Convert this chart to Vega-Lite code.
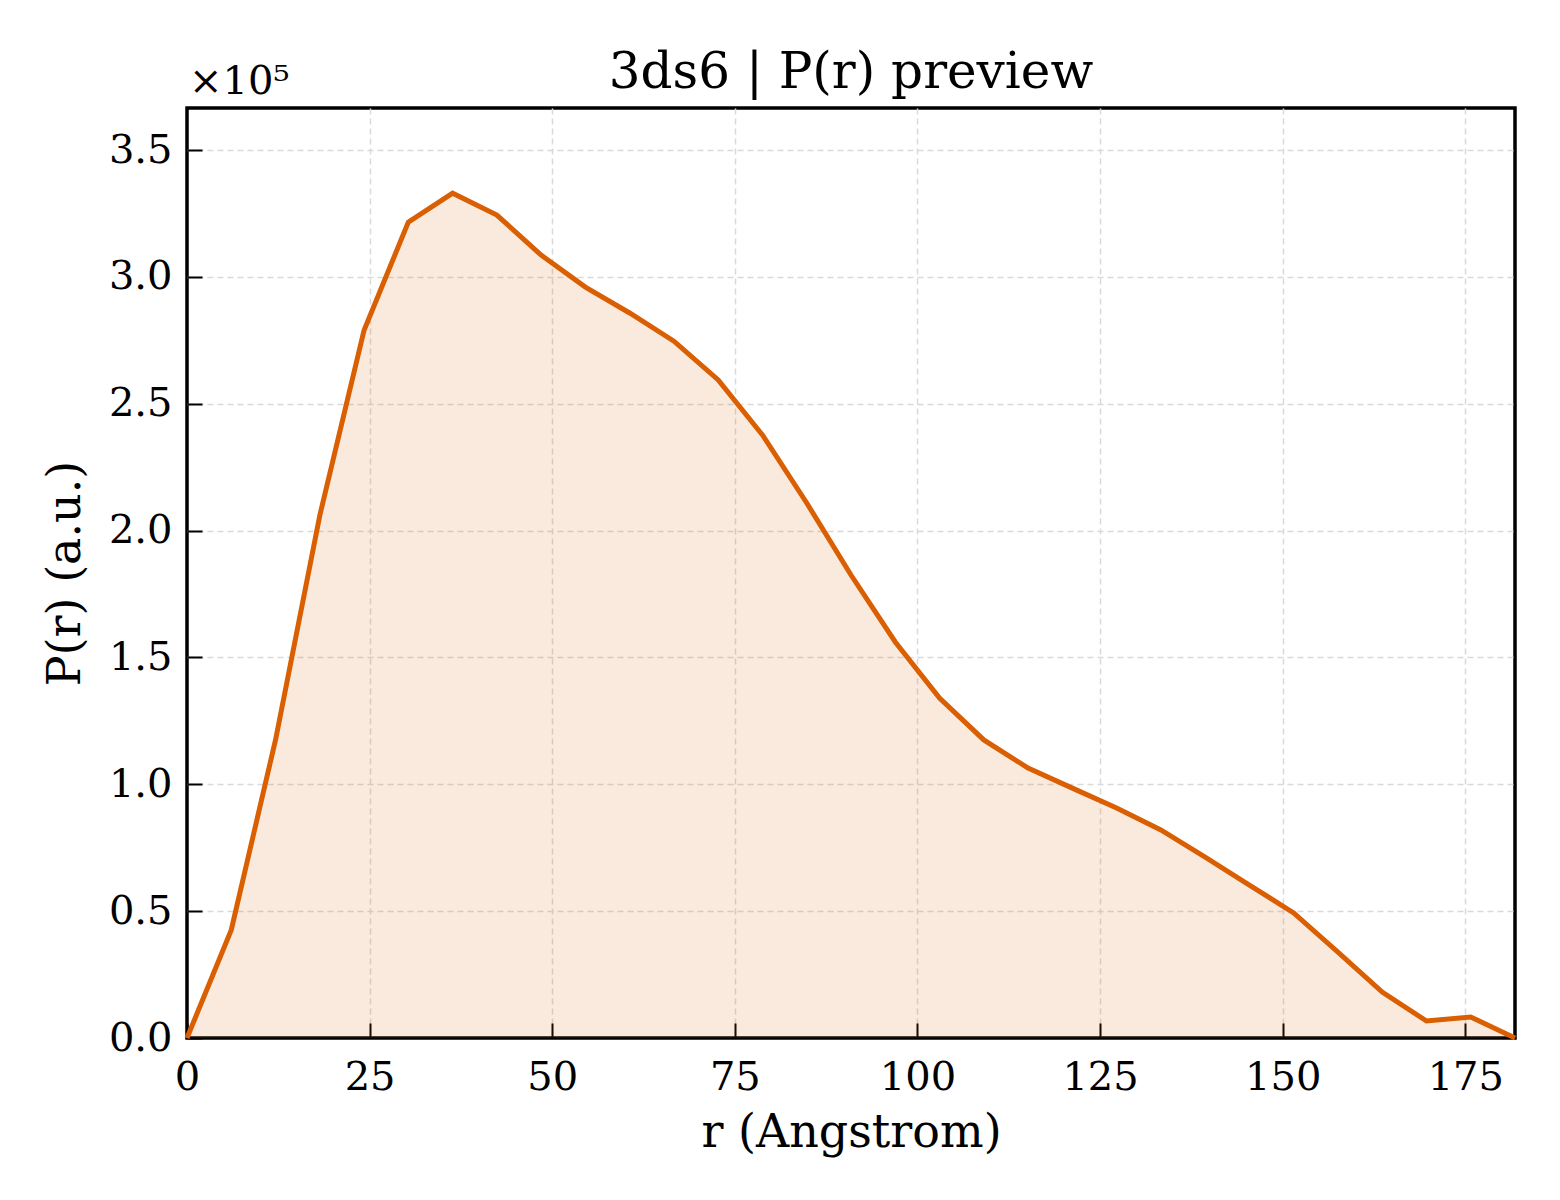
{
  "$schema": "https://vega.github.io/schema/vega-lite/v6.json",
  "autosize": "none",
  "width": 1328,
  "height": 930,
  "padding": {"left": 187, "top": 108, "right": 45, "bottom": 162},
  "background": "white",
  "title": {
    "text": "3ds6 | P(r) preview",
    "font": "DejaVu Serif",
    "fontSize": 50,
    "fontWeight": "normal",
    "color": "black",
    "offset": -36
  },
  "config": {
    "view": {"stroke": "black", "strokeWidth": 3.5},
    "axis": {
      "labelFont": "DejaVu Serif",
      "labelFontSize": 40,
      "labelColor": "black",
      "labelFlush": false,
      "titleFont": "DejaVu Serif",
      "titleFontSize": 46,
      "titleFontWeight": "normal",
      "titleColor": "black",
      "domain": false,
      "tickColor": "black",
      "tickWidth": 2,
      "tickSize": -15,
      "grid": true,
      "gridColor": "#d9d9d9",
      "gridWidth": 1.5,
      "gridDash": [6, 4],
      "gridOpacity": {"condition": {"test": "datum.value === 0", "value": 0}, "value": 1}
    }
  },
  "data": {
    "values": [
      {"r": 0.0, "p": 0.0},
      {"r": 6.06, "p": 0.426},
      {"r": 12.12, "p": 1.175},
      {"r": 18.18, "p": 2.06},
      {"r": 24.24, "p": 2.79},
      {"r": 30.3, "p": 3.216},
      {"r": 36.36, "p": 3.33},
      {"r": 42.42, "p": 3.244},
      {"r": 48.48, "p": 3.086},
      {"r": 54.54, "p": 2.96},
      {"r": 60.6, "p": 2.858},
      {"r": 66.66, "p": 2.747},
      {"r": 72.72, "p": 2.594},
      {"r": 78.78, "p": 2.377},
      {"r": 84.84, "p": 2.109},
      {"r": 90.9, "p": 1.825},
      {"r": 96.96, "p": 1.561},
      {"r": 103.02, "p": 1.34},
      {"r": 109.08, "p": 1.175},
      {"r": 115.14, "p": 1.064},
      {"r": 121.2, "p": 0.985},
      {"r": 127.26, "p": 0.907},
      {"r": 133.32, "p": 0.82},
      {"r": 139.38, "p": 0.713},
      {"r": 145.44, "p": 0.603},
      {"r": 151.5, "p": 0.493},
      {"r": 157.56, "p": 0.339},
      {"r": 163.62, "p": 0.181},
      {"r": 169.68, "p": 0.067},
      {"r": 175.74, "p": 0.083},
      {"r": 181.8, "p": 0.0}
    ]
  },
  "layer": [
    {
      "mark": {"type": "area", "color": "#d95f02", "opacity": 0.13},
      "encoding": {
        "x": {
          "field": "r",
          "type": "quantitative",
          "title": "r (Angstrom)",
          "scale": {"domain": [0, 181.8], "nice": false, "zero": false},
          "axis": {"values": [0, 25, 50, 75, 100, 125, 150, 175], "format": "d", "labelPadding": 34, "titlePadding": 13}
        },
        "y": {
          "field": "p",
          "type": "quantitative",
          "title": "P(r) (a.u.)",
          "scale": {"domain": [0, 3.666], "nice": false},
          "axis": {"values": [0, 0.5, 1, 1.5, 2, 2.5, 3, 3.5], "format": ".1f", "labelPadding": 30, "titlePadding": 19}
        }
      }
    },
    {
      "mark": {"type": "line", "color": "#d95f02", "strokeWidth": 5},
      "encoding": {
        "x": {"field": "r", "type": "quantitative"},
        "y": {"field": "p", "type": "quantitative"}
      }
    },
    {
      "data": {"values": [{"label": "×10⁵", "r": 0, "p": 3.666}]},
      "mark": {
        "type": "text",
        "font": "DejaVu Serif",
        "fontSize": 40,
        "align": "left",
        "baseline": "bottom",
        "dx": 2,
        "dy": -6,
        "color": "black"
      },
      "encoding": {
        "x": {"field": "r", "type": "quantitative"},
        "y": {"field": "p", "type": "quantitative"},
        "text": {"field": "label", "type": "nominal"}
      }
    }
  ]
}
